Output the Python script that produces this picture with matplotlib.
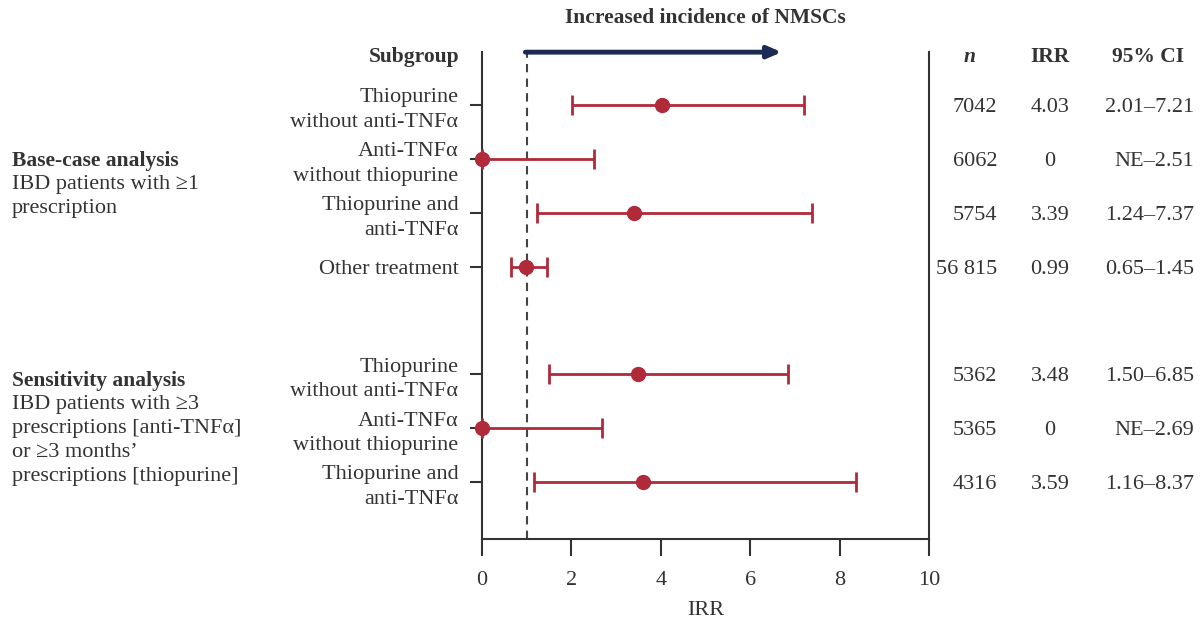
import matplotlib.pyplot as plt
import matplotlib.transforms as mtransforms

plt.rcParams['font.family'] = ['Liberation Serif', 'DejaVu Serif']
plt.rcParams['text.color'] = '#333333'

# дані
subgroups = ['Thiopurine\nwithout anti-TNFα', 'Anti-TNFα\nwithout thiopurine',
             'Thiopurine and\nanti-TNFα', 'Other treatment',
             'Thiopurine\nwithout anti-TNFα', 'Anti-TNFα\nwithout thiopurine',
             'Thiopurine and\nanti-TNFα']
rows = [0, 1, 2, 3, 5, 6, 7]
irr = [4.03, 0, 3.39, 0.99, 3.48, 0, 3.59]
ci_low = [2.01, 0, 1.24, 0.65, 1.50, 0, 1.16]
ci_high = [7.21, 2.51, 7.37, 1.45, 6.85, 2.69, 8.37]
n_vals = ['7042', '6062', '5754', '56 815', '5362', '5365', '4316']
irr_txt = ['4.03', '0', '3.39', '0.99', '3.48', '0', '3.59']
ci_txt = ['2.01–7.21', 'NE–2.51', '1.24–7.37', '0.65–1.45',
          '1.50–6.85', 'NE–2.69', '1.16–8.37']
groups = ['Base-case analysis', 'Sensitivity analysis']
group_desc = [['IBD patients with ≥1', 'prescription'],
              ['IBD patients with ≥3', 'prescriptions [anti-TNFα]',
               'or ≥3 months’', 'prescriptions [thiopurine]']]
group_rows = [1.04, 5.12]

red = '#b02a3a'
navy = '#1c2b55'
dark = '#333333'
fs = 16
fsb = 15.5
line_step = 0.446  # ~24 px між рядками
dy = 0.05  # невеликий зсув тексту таблиці вниз

fig = plt.figure(figsize=(12.02, 6.21), dpi=100)
ax = fig.add_axes([0.401, 0.132, 0.372, 0.784])

xerr = [[v - l for v, l in zip(irr, ci_low)], [h - v for v, h in zip(irr, ci_high)]]
ax.errorbar(irr, rows, xerr=xerr, fmt='o', color=red, ecolor=red, elinewidth=2,
            capsize=7, capthick=2, markersize=10, clip_on=False, zorder=3)

ax.set_xlim(0, 10)
ax.set_ylim(8.06, -0.98)
ax.axvline(1, color='#444444', linestyle=(0, (4, 3)), linewidth=1.5, zorder=1)

# стрілка
ax.annotate('', xy=(6.7, -0.98), xytext=(0.97, -0.98),
            arrowprops=dict(arrowstyle='-|>,head_length=0.8,head_width=0.35',
                            color=navy, lw=3.5, shrinkA=0, shrinkB=0),
            annotation_clip=False)
ax.text(5.0, -1.61, 'Increased incidence of NMSCs', ha='center', va='center',
        fontsize=fsb, fontweight='bold')

ax.spines['top'].set_visible(False)
for s in ['left', 'right', 'bottom']:
    ax.spines[s].set_color(dark)
    ax.spines[s].set_linewidth(1.5)

ax.set_yticks(rows)
ax.set_yticklabels(subgroups, fontsize=fs, color=dark)
for lbl in ax.get_yticklabels():
    lbl.set_linespacing(1.4)
ax.tick_params(axis='y', length=9, width=1.5, color=dark, pad=8)
ax.set_xticks([0, 2, 4, 6, 8, 10])
ax.tick_params(axis='x', length=12, width=1.5, color=dark, pad=11,
               labelsize=fs, labelcolor=dark)
ax.set_xlabel('IRR', fontsize=fs, labelpad=8, color=dark)

blend = mtransforms.blended_transform_factory(fig.transFigure, ax.transData)
ax.text(459 / 1202, -0.89, 'Subgroup', transform=blend, ha='right', va='center',
        fontsize=fsb, fontweight='bold')
ax.text(970 / 1202, -0.89, 'n', transform=blend, ha='center', va='center',
        fontsize=fsb, fontweight='bold', style='italic')
ax.text(1050 / 1202, -0.89, 'IRR', transform=blend, ha='center', va='center',
        fontsize=fsb, fontweight='bold')
ax.text(1148 / 1202, -0.89, '95% CI', transform=blend, ha='center', va='center',
        fontsize=fsb, fontweight='bold')

for r, a, b, c in zip(rows, n_vals, irr_txt, ci_txt):
    ax.text(997 / 1202, r + dy, a, transform=blend, ha='right', va='center', fontsize=fs)
    ax.text(1050 / 1202, r + dy, b, transform=blend, ha='center', va='center', fontsize=fs)
    ax.text(1194 / 1202, r + dy, c, transform=blend, ha='right', va='center', fontsize=fs)

for g, desc, r in zip(groups, group_desc, group_rows):
    ax.text(12 / 1202, r, g, transform=blend, ha='left', va='center',
            fontsize=fsb, fontweight='bold')
    for i, line in enumerate(desc):
        ax.text(12 / 1202, r + line_step * (i + 1), line, transform=blend,
                ha='left', va='center', fontsize=fs)

fig.savefig('out.png', dpi=100)
